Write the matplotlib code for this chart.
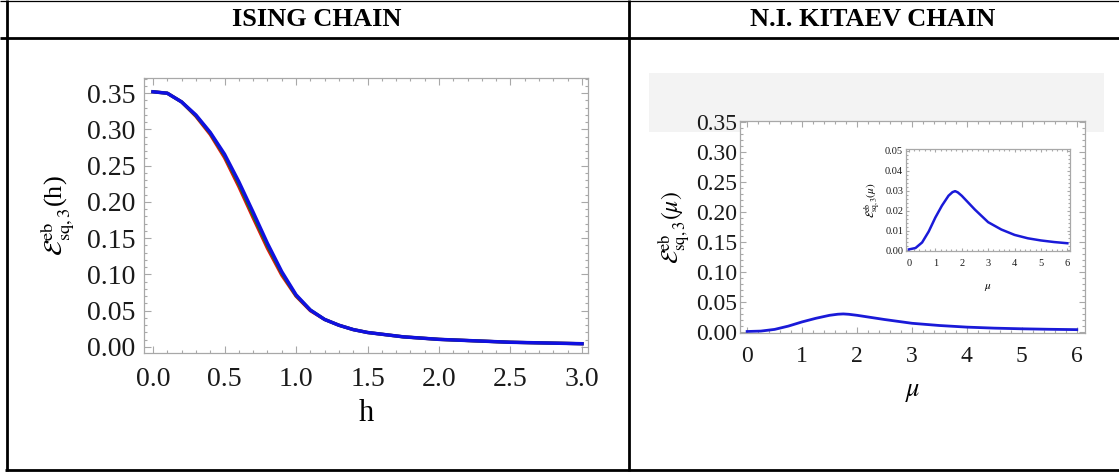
import matplotlib
matplotlib.use("Agg")
import matplotlib.pyplot as plt
from matplotlib.ticker import MultipleLocator, FormatStrFormatter
from matplotlib.patches import Rectangle
from matplotlib.lines import Line2D

plt.rcParams['font.family'] = ['Liberation Serif', 'DejaVu Serif']
plt.rcParams['mathtext.fontset'] = 'stix'

# ---------------- data ----------------
ising_h = [0, 0.1, 0.2, 0.3, 0.4, 0.5, 0.6, 0.7, 0.8, 0.9, 1.0, 1.1, 1.2, 1.3,
           1.4, 1.5, 1.75, 2.0, 2.5, 3.0]
ising_blue = [0.352, 0.350, 0.338, 0.320, 0.296, 0.266, 0.228, 0.186, 0.143, 0.104,
              0.072, 0.051, 0.038, 0.030, 0.024, 0.020, 0.014, 0.0105, 0.0065, 0.0045]
ising_green = [0.352, 0.350, 0.338, 0.319, 0.295, 0.264, 0.225, 0.182, 0.140, 0.102,
               0.071, 0.051, 0.038, 0.030, 0.024, 0.020, 0.014, 0.0105, 0.0065, 0.0045]
ising_red = [0.352, 0.350, 0.338, 0.318, 0.293, 0.261, 0.221, 0.178, 0.136, 0.099,
             0.070, 0.050, 0.038, 0.030, 0.024, 0.020, 0.014, 0.0105, 0.0065, 0.0045]

kitaev_mu = [0, 0.25, 0.5, 0.75, 1.0, 1.25, 1.5, 1.65, 1.75, 1.85, 2.0, 2.25, 2.5,
             3.0, 3.5, 4.0, 4.5, 5.0, 5.5, 6.0]
kitaev_E = [0.0005, 0.0012, 0.004, 0.0095, 0.0165, 0.0225, 0.0275, 0.0293, 0.0298,
            0.0292, 0.0275, 0.0240, 0.0205, 0.0142, 0.0105, 0.0078, 0.0061, 0.0050,
            0.0042, 0.0036]

headers = ["ISING CHAIN", "N.I. KITAEV CHAIN"]
ising_xticks = [0.0, 0.5, 1.0, 1.5, 2.0, 2.5, 3.0]
ising_yticks = [0.00, 0.05, 0.10, 0.15, 0.20, 0.25, 0.30, 0.35]
kitaev_xticks = [0, 1, 2, 3, 4, 5, 6]
kitaev_yticks = [0.00, 0.05, 0.10, 0.15, 0.20, 0.25, 0.30, 0.35]
inset_yticks = [0.00, 0.01, 0.02, 0.03, 0.04, 0.05]

W, H = 1119, 472
fig = plt.figure(figsize=(W / 100, H / 100), dpi=100)
fig.patch.set_facecolor('white')

def fx(px):
    return px / W

def fy(py):
    return 1 - py / H

# table lines
def hline(y, x0, x1, lw):
    fig.add_artist(Line2D([fx(x0), fx(x1)], [fy(y), fy(y)], color='black', lw=lw,
                          transform=fig.transFigure, solid_capstyle='butt'))

def vline(x, y0, y1, lw):
    fig.add_artist(Line2D([fx(x), fx(x)], [fy(y0), fy(y1)], color='black', lw=lw,
                          transform=fig.transFigure, solid_capstyle='butt'))

hline(0.6, 0, W, 0.9)
hline(37.5, 0, W, 2.0)
hline(470, 5, W, 2.0)
vline(6.5, 0, 471, 2.0)
vline(628.5, 0, 471, 2.0)

fig.text(fx(317), fy(19), headers[0], ha='center', va='center', fontsize=19,
         fontweight='bold')
fig.text(fx(873), fy(19), headers[1], ha='center', va='center', fontsize=19,
         fontweight='bold')

# gray band in right cell (behind the axes)
fig.add_artist(Rectangle((fx(649), fy(132)), fx(1104) - fx(649), fy(73) - fy(132),
                         transform=fig.transFigure, facecolor='#f3f3f3',
                         edgecolor='none', zorder=-5))

frame_col = '#a8a8a8'

def style(ax, xmaj, xmin, ymaj, ymin, lsize, majlen, minlen, xpad, ypad):
    for s in ax.spines.values():
        s.set_color(frame_col)
        s.set_linewidth(0.9)
    ax.xaxis.set_major_locator(MultipleLocator(xmaj))
    ax.xaxis.set_minor_locator(MultipleLocator(xmin))
    ax.yaxis.set_major_locator(MultipleLocator(ymaj))
    ax.yaxis.set_minor_locator(MultipleLocator(ymin))
    ax.tick_params(which='both', direction='in', top=True, right=True,
                   color=frame_col, width=0.8)
    ax.tick_params(which='major', length=majlen, labelsize=lsize,
                   labelcolor='#1a1a1a')
    ax.tick_params(axis='x', which='major', pad=xpad)
    ax.tick_params(axis='y', which='major', pad=ypad)
    ax.tick_params(which='minor', length=minlen)

# left plot
ax1 = fig.add_axes([fx(144), fy(353), fx(588) - fx(144), fy(78) - fy(353)])
ax1.set_zorder(2)
ax1.plot(ising_h, ising_red, color='#e01010', lw=2.3)
ax1.plot(ising_h, ising_green, color='#108010', lw=2.3)
ax1.plot(ising_h, ising_blue, color='#1010e0', lw=2.5)
ax1.set_xlim(-0.063, 3.042)
ax1.set_ylim(-0.0083, 0.371)
style(ax1, 0.5, 0.1, 0.05, 0.01, 20, 5, 2.5, 10, 6)
ax1.set_xticks(ising_xticks)
ax1.set_yticks(ising_yticks)
ax1.xaxis.set_major_formatter(FormatStrFormatter('%.1f'))
ax1.yaxis.set_major_formatter(FormatStrFormatter('%.2f'))
ax1.set_xlabel('h', fontsize=22, labelpad=5)
ax1.set_ylabel(r'$\mathcal{E}^{\mathrm{eb}}_{\mathrm{sq},3}$(h)', fontsize=19,
               labelpad=8)

# right main plot
ax2 = fig.add_axes([fx(740), fy(333), fx(1085) - fx(740), fy(121) - fy(333)])
ax2.set_zorder(2)
ax2.plot(kitaev_mu, kitaev_E, color='#1a1ad8', lw=2.0)
ax2.set_xlim(-0.13, 6.15)
ax2.set_ylim(-0.002, 0.3515)
style(ax2, 1, 0.2, 0.05, 0.01, 17, 4.5, 2.2, 9, 2)
ax2.set_xticks(kitaev_xticks)
ax2.set_yticks(kitaev_yticks)
ax2.yaxis.set_major_formatter(FormatStrFormatter('%.2f'))
ax2.set_xlabel(r'$\mu$', fontsize=19, labelpad=11)
ax2.set_ylabel(r'$\mathcal{E}^{\mathrm{eb}}_{\mathrm{sq},3}(\mu)$', fontsize=17,
               labelpad=2)

# inset
ax3 = fig.add_axes([fx(906), fy(251), fx(1070) - fx(906), fy(149) - fy(251)])
ax3.set_zorder(3)
ax3.plot(kitaev_mu, kitaev_E, color='#1a1ad8', lw=1.8)
ax3.set_xlim(-0.11, 6.1)
ax3.set_ylim(-0.0003, 0.051)
style(ax3, 1, 0.2, 0.01, 0.002, 7.5, 2.5, 1.2, 6, 2)
ax3.set_xticks(kitaev_xticks)
ax3.set_yticks(inset_yticks)
ax3.yaxis.set_major_formatter(FormatStrFormatter('%.2f'))
ax3.set_xlabel(r'$\mu$', fontsize=8, labelpad=10)
ax3.set_ylabel(r'$\mathcal{E}^{\mathrm{eb}}_{\mathrm{sq},3}(\mu)$', fontsize=8,
               labelpad=2)

fig.savefig('out.png', dpi=100)
